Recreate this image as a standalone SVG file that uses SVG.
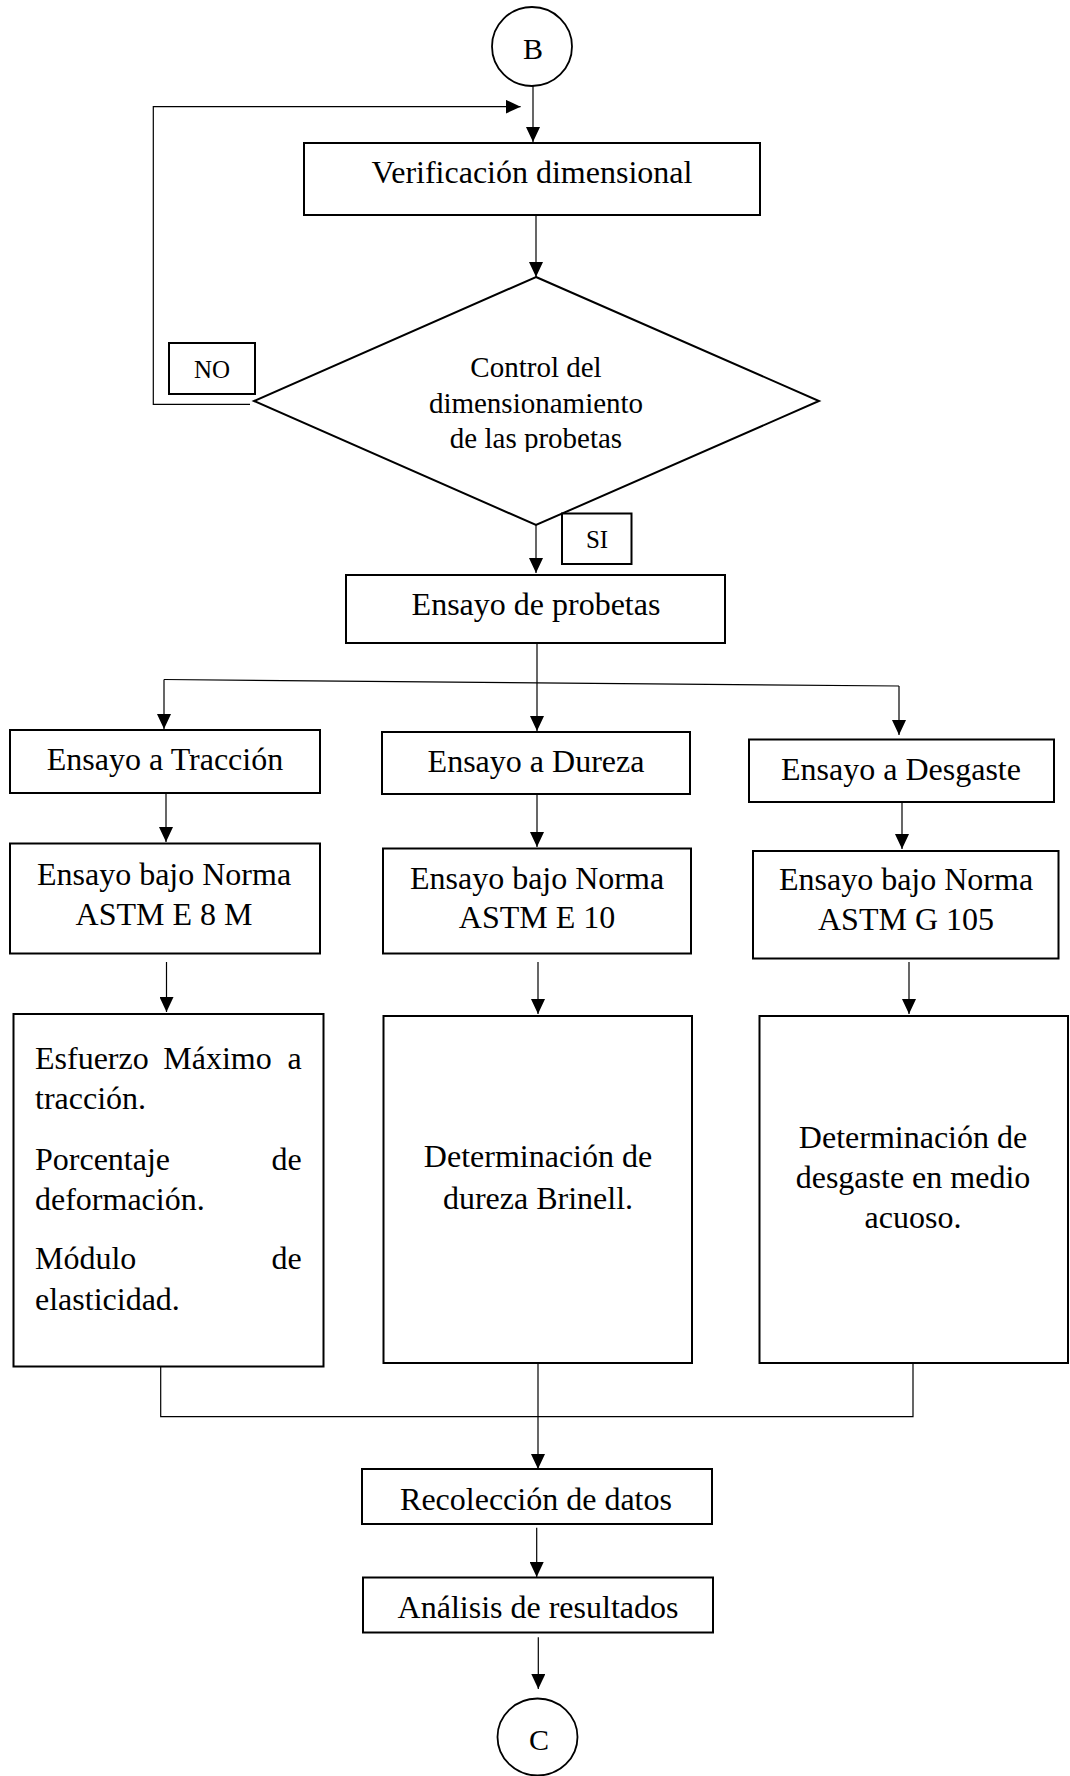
<svg xmlns="http://www.w3.org/2000/svg" width="1070" height="1776" viewBox="0 0 1070 1776">
<style>
.box{fill:#fff;stroke:#000;stroke-width:2}
.ln{fill:none;stroke:#000;stroke-width:1.2}
.t{font-family:"Liberation Serif","Times New Roman",serif;font-size:32px;fill:#000;text-anchor:middle}
.tl{font-family:"Liberation Serif","Times New Roman",serif;font-size:32px;fill:#000}
.te{font-family:"Liberation Serif","Times New Roman",serif;font-size:32px;fill:#000;text-anchor:end}
.td{font-family:"Liberation Serif","Times New Roman",serif;font-size:29px;fill:#000;text-anchor:middle}
.ts{font-family:"Liberation Serif","Times New Roman",serif;font-size:25px;fill:#000;text-anchor:middle}
</style>
<defs>
<marker id="ah" markerUnits="userSpaceOnUse" markerWidth="15" markerHeight="14" refX="15" refY="7" orient="auto">
<path d="M0,0 L15,7 L0,14 z" fill="#000"/>
</marker>
<clipPath id="dclip"><rect x="0" y="0" width="1070" height="452"/></clipPath>
</defs>
<rect x="0" y="0" width="1070" height="1776" fill="#fff"/>

<g id="connectors">
<path class="ln" d="M533,86 V142" marker-end="url(#ah)"/>
<path class="ln" d="M250,404.3 H153.3 V106.7 H520.6" marker-end="url(#ah)"/>
<path class="ln" d="M536,215 V277" marker-end="url(#ah)"/>
<path class="ln" d="M536,525 V573" marker-end="url(#ah)"/>
<path class="ln" d="M164,679.5 L899,686"/>
<path class="ln" d="M164,679.5 V729" marker-end="url(#ah)"/>
<path class="ln" d="M537,643 V731" marker-end="url(#ah)"/>
<path class="ln" d="M899,686 V735" marker-end="url(#ah)"/>
<path class="ln" d="M166,793 V842" marker-end="url(#ah)"/>
<path class="ln" d="M537,794 V847" marker-end="url(#ah)"/>
<path class="ln" d="M902,802 V849" marker-end="url(#ah)"/>
<path class="ln" d="M166.5,962 V1012" marker-end="url(#ah)"/>
<path class="ln" d="M538,962 V1014" marker-end="url(#ah)"/>
<path class="ln" d="M909,962 V1014" marker-end="url(#ah)"/>
<path class="ln" d="M160.7,1367 V1416.7 H913 V1363"/>
<path class="ln" d="M538,1363 V1469" marker-end="url(#ah)"/>
<path class="ln" d="M536.7,1527.7 V1577" marker-end="url(#ah)"/>
<path class="ln" d="M538.3,1637.3 V1689" marker-end="url(#ah)"/>
</g>

<g id="node-B">
<ellipse cx="532" cy="46.5" rx="40" ry="39.5" fill="#fff" stroke="#000" stroke-width="1.8"/>
<text class="t" x="533" y="59" style="font-size:30px">B</text>
</g>

<g id="node-verificacion">
<rect class="box" x="304" y="143" width="456" height="72"/>
<text class="t" x="532" y="183">Verificación dimensional</text>
</g>

<g id="node-control">
<polygon class="box" points="536,277 819,401 536,525 254,401"/>
<text class="td" x="536" y="376.7">Control del</text>
<text class="td" x="536" y="413.3">dimensionamiento</text>
<text class="td" x="536" y="448.3" clip-path="url(#dclip)">de las probetas</text>
</g>

<g id="node-no">
<rect class="box" x="169" y="343" width="86" height="51"/>
<text class="ts" x="212" y="378">NO</text>
</g>

<g id="node-si">
<rect class="box" x="562" y="513.5" width="69.5" height="50.5"/>
<text class="ts" x="597" y="548">SI</text>
</g>

<g id="node-probetas">
<rect class="box" x="346" y="575" width="379" height="68"/>
<text class="t" x="536" y="615">Ensayo de probetas</text>
</g>

<g id="node-traccion">
<rect class="box" x="10" y="730" width="310" height="63"/>
<text class="t" x="165" y="770">Ensayo a Tracción</text>
</g>

<g id="node-dureza">
<rect class="box" x="382" y="732" width="308" height="62"/>
<text class="t" x="536" y="772">Ensayo a Dureza</text>
</g>

<g id="node-desgaste">
<rect class="box" x="749" y="739.5" width="305" height="62.5"/>
<text class="t" x="901" y="780">Ensayo a Desgaste</text>
</g>

<g id="node-norma-e8m">
<rect class="box" x="10" y="843.5" width="310" height="110"/>
<text class="t" x="164" y="885">Ensayo bajo Norma</text>
<text class="t" x="164" y="925">ASTM E 8 M</text>
</g>

<g id="node-norma-e10">
<rect class="box" x="383" y="848.5" width="308" height="105"/>
<text class="t" x="537" y="889">Ensayo bajo Norma</text>
<text class="t" x="537" y="928">ASTM E 10</text>
</g>

<g id="node-norma-g105">
<rect class="box" x="753" y="851" width="305.5" height="107.5"/>
<text class="t" x="906" y="890">Ensayo bajo Norma</text>
<text class="t" x="906" y="930">ASTM G 105</text>
</g>

<g id="node-res-traccion">
<rect class="box" x="13.5" y="1014" width="310" height="352.5"/>
<text class="tl" x="35" y="1069">Esfuerzo</text>
<text class="tl" x="163.3" y="1069">Máximo</text>
<text class="te" x="301.7" y="1069">a</text>
<text class="tl" x="35" y="1109">tracción.</text>
<text class="tl" x="35" y="1170">Porcentaje</text>
<text class="te" x="301.7" y="1170">de</text>
<text class="tl" x="35" y="1210">deformación.</text>
<text class="tl" x="35" y="1269">Módulo</text>
<text class="te" x="301.7" y="1269">de</text>
<text class="tl" x="35" y="1310">elasticidad.</text>
</g>

<g id="node-res-dureza">
<rect class="box" x="383.5" y="1016" width="308.5" height="347"/>
<text class="t" x="538" y="1167">Determinación de</text>
<text class="t" x="538" y="1209">dureza Brinell.</text>
</g>

<g id="node-res-desgaste">
<rect class="box" x="759.5" y="1016" width="308.5" height="347"/>
<text class="t" x="913" y="1148">Determinación de</text>
<text class="t" x="913" y="1188">desgaste en medio</text>
<text class="t" x="913" y="1228">acuoso.</text>
</g>

<g id="node-recoleccion">
<rect class="box" x="362" y="1469" width="350" height="55"/>
<text class="t" x="536" y="1510">Recolección de datos</text>
</g>

<g id="node-analisis">
<rect class="box" x="363" y="1577.5" width="350" height="55"/>
<text class="t" x="538" y="1618">Análisis de resultados</text>
</g>

<g id="node-C">
<ellipse cx="537.5" cy="1737" rx="40" ry="38.5" fill="#fff" stroke="#000" stroke-width="1.8"/>
<text class="t" x="539" y="1750" style="font-size:30px">C</text>
</g>
</svg>
